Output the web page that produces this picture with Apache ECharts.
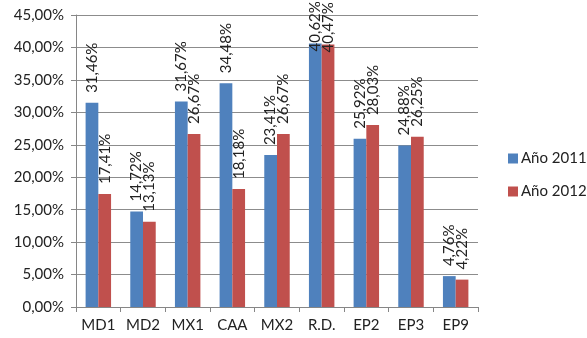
<!DOCTYPE html>
<html>
<head>
<meta charset="utf-8">
<script src="https://cdn.jsdelivr.net/npm/echarts@6/dist/echarts.min.js"></script>
<style>
  html, body { margin: 0; padding: 0; background: #fff; }
  #chart { width: 587px; height: 338px; }
</style>
</head>
<body>
<div id="chart"></div>
<script>
// categorías y valores
var categories = ['MD1', 'MD2', 'MX1', 'CAA', 'MX2', 'R.D.', 'EP2', 'EP3', 'EP9']
var values2011 = [31.46, 14.72, 31.67, 34.48, 23.41, 40.62, 25.92, 24.88, 4.76]
var values2012 = [17.41, 13.13, 26.67, 18.18, 26.67, 40.47, 28.03, 26.25, 4.22]
var seriesNames = ['Año 2011', 'Año 2012']

function pct(v) {
  return v.toFixed(2).replace('.', ',') + '%'
}

var font = 'Lato, "Open Sans", sans-serif'
var chart = echarts.init(document.getElementById('chart'))

var labelStyle = {
  show: true,
  position: 'top',
  rotate: 90,
  align: 'left',
  verticalAlign: 'middle',
  distance: 10,
  fontFamily: font,
  fontSize: 15,
  color: '#222',
  formatter: function (p) { return pct(p.value) }
}

// la barra R.D. llega casi al tope: Excel baja la etiqueta para que quepa
function withLabels(values) {
  return values.map(function (v, i) {
    if (categories[i] === 'R.D.') return { value: v, label: { distance: -8 } }
    return v
  })
}

chart.setOption({
  animation: false,
  textStyle: { fontFamily: font },
  grid: { left: 76, right: 109, top: 15, bottom: 31 },
  legend: {
    orient: 'vertical',
    left: 503,
    top: 146,
    itemWidth: 10,
    itemHeight: 10,
    itemGap: 18,
    icon: 'rect',
    textStyle: { fontFamily: font, fontSize: 15, color: '#222', padding: [0, 0, 0, -2] },
    data: seriesNames
  },
  xAxis: {
    type: 'category',
    data: categories,
    axisLine: { lineStyle: { color: '#868686' } },
    axisTick: { show: true, length: 5, lineStyle: { color: '#868686' } },
    axisLabel: { fontFamily: font, fontSize: 15, color: '#222', margin: 11 }
  },
  yAxis: {
    type: 'value',
    min: 0,
    max: 45,
    interval: 5,
    axisLine: { show: true, lineStyle: { color: '#868686' } },
    axisTick: { show: true, length: 5, lineStyle: { color: '#868686' } },
    splitLine: { lineStyle: { color: '#8c8c8c' } },
    axisLabel: {
      fontFamily: font,
      fontSize: 15,
      color: '#222',
      margin: 12,
      formatter: function (v) { return pct(v) }
    }
  },
  series: [{
    name: seriesNames[0],
    type: 'bar',
    data: withLabels(values2011),
    barGap: '0%',
    barCategoryGap: '43%',
    itemStyle: { color: '#4f81bd' },
    label: labelStyle
  }, {
    name: seriesNames[1],
    type: 'bar',
    data: withLabels(values2012),
    barGap: '0%',
    barCategoryGap: '43%',
    itemStyle: { color: '#c0504d' },
    label: labelStyle
  }]
})
</script>
</body>
</html>
